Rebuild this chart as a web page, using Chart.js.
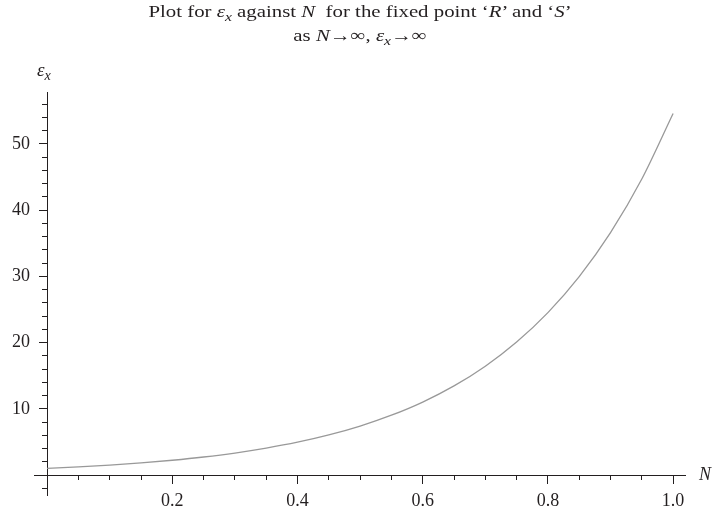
<!DOCTYPE html>
<html><head><meta charset="utf-8">
<script src="https://cdn.jsdelivr.net/npm/chart.js@4/dist/chart.umd.min.js"></script>
<style>
html,body{margin:0;padding:0;background:#fff;}
#wrap{position:relative;width:717px;height:513px;overflow:hidden;}
canvas{position:absolute;left:0;top:0;}
.t{position:absolute;font-family:"Liberation Serif",serif;color:#231f20;white-space:nowrap;}
.t sub{font-size:0.75em;position:relative;top:0.3em;vertical-align:baseline;line-height:0;}
#title{left:2px;width:717px;top:-1px;text-align:center;font-size:17.5px;line-height:24px;transform:scaleX(1.19);transform-origin:361px 0;}
</style></head><body>
<div id="wrap">
<canvas id="c" width="717" height="513"></canvas>
<div class="t" id="title">Plot for <i>ε<sub>x</sub></i> against <i>N</i>&nbsp; for the fixed point ‘<i>R</i>’ and ‘<i>S</i>’<br>as <i>N</i>→∞, <i>ε<sub>x</sub></i>→∞</div>
<div class="t" style="left:37px;top:60px;font-size:19px;line-height:19px;"><i>ε<sub>x</sub></i></div>
<div class="t" style="left:699px;top:465px;font-size:18px;line-height:18px;"><i>N</i></div>
</div>
<script>
// Data
const N = [0, 0.05, 0.1, 0.15, 0.2, 0.25, 0.3, 0.35, 0.4, 0.45, 0.5, 0.55, 0.6, 0.65, 0.7, 0.75, 0.8, 0.85, 0.9, 0.95, 1.0];
const epsX = [1.00, 1.22, 1.49, 1.82, 2.23, 2.72, 3.32, 4.06, 4.95, 6.05, 7.39, 9.03, 11.02, 13.46, 16.44, 20.09, 24.53, 29.96, 36.60, 44.70, 54.60];
const xMajorTicks = [0.2, 0.4, 0.6, 0.8, 1.0];
const yMajorTicks = [10, 20, 30, 40, 50];

const INK = '#231f20';
const FONT = {family: 'Liberation Serif', size: 18};
const X_MIN = -0.021, X_MAX = 1.019, Y_MIN = -3.02, Y_MAX = 57.85;

function axis(extra) {
  return Object.assign({
    type: 'linear',
    afterFit: s => { if (s.isHorizontal()) s.height = 0; else s.width = 0; },
    grid: {display: true, drawOnChartArea: false, drawTicks: true, color: INK, tickColor: INK, tickWidth: 1},
    border: {display: false},
  }, extra);
}

new Chart(document.getElementById('c'), {
  type: 'line',
  data: {
    datasets: [{
      data: N.map((n, i) => ({x: n, y: epsX[i]})),
      borderColor: '#999999',
      borderWidth: 1.3,
      pointRadius: 0,
      cubicInterpolationMode: 'monotone',
      fill: false
    }]
  },
  options: {
    responsive: false,
    animation: false,
    events: [],
    layout: {padding: {left: 0, right: 32, top: 92, bottom: 18}},
    plugins: {legend: {display: false}, tooltip: {enabled: false}, title: {display: false}},
    scales: {
      x: axis({
        position: {y: 0}, min: X_MIN, max: X_MAX,
        afterBuildTicks: s => { s.ticks = xMajorTicks.map(v => ({value: v})); },
        grid: {display: true, drawOnChartArea: false, drawTicks: true, tickLength: 8, color: INK, tickColor: INK},
        border: {display: true, color: INK, width: 1},
        ticks: {font: FONT, color: INK, padding: 7, autoSkip: false, maxRotation: 0, callback: v => Number(v).toFixed(1)}
      }),
      x2: axis({
        axis: 'x', position: {y: 0}, min: X_MIN, max: X_MAX,
        grid: {display: true, drawOnChartArea: false, drawTicks: true, tickLength: 5, color: INK, tickColor: INK},
        ticks: {stepSize: 0.05, includeBounds: false, autoSkip: false, maxRotation: 0, callback: () => ''}
      }),
      y: axis({
        position: {x: 0}, min: Y_MIN, max: Y_MAX,
        afterBuildTicks: s => { s.ticks = yMajorTicks.map(v => ({value: v})); },
        grid: {display: true, drawOnChartArea: false, drawTicks: true, tickLength: 8, color: INK, tickColor: INK},
        border: {display: true, color: INK, width: 1},
        ticks: {display: false, autoSkip: false}
      }),
      y2: axis({
        axis: 'y', position: {x: 0}, min: Y_MIN, max: Y_MAX,
        grid: {display: true, drawOnChartArea: false, drawTicks: true, tickLength: 5, color: INK, tickColor: INK},
        ticks: {stepSize: 2, includeBounds: false, autoSkip: false, callback: () => ''}
      }),
      yl: {
        type: 'linear', axis: 'y', position: 'left', min: Y_MIN, max: Y_MAX,
        afterBuildTicks: s => { s.ticks = yMajorTicks.map(v => ({value: v})); },
        afterFit: s => { s.width = 34; },
        grid: {display: false, drawTicks: false},
        border: {display: false},
        ticks: {font: FONT, color: INK, padding: 4, autoSkip: false, callback: v => String(v)}
      }
    }
  }
});
</script>
</body></html>
